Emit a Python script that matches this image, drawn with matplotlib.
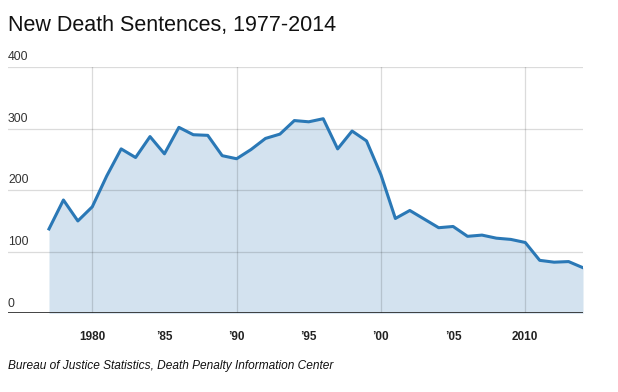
import matplotlib.pyplot as plt
import matplotlib.transforms as mtransforms

plt.rcParams['font.family'] = ['Liberation Sans', 'DejaVu Sans']

# new death sentences per year
years = list(range(1977, 2015))
sentences = [137, 184, 150, 173, 223, 267, 253, 287, 259, 302,
             290, 289, 256, 251, 266, 284, 291, 313, 311, 316,
             267, 296, 280, 225, 154, 167, 153, 139, 141, 125,
             127, 122, 120, 115, 86, 83, 84, 74]

xtick_pos = [1980, 1985, 1990, 1995, 2000, 2005, 2010]
xtick_labels = ['1980', '\u201985', '\u201990', '\u201995', '\u201900', '\u201905', '2010']
ytick_pos = [0, 100, 200, 300, 400]

fig = plt.figure(figsize=(6.18, 3.92), dpi=100)
ax = fig.add_axes([8 / 618, 1 - 313.3 / 392, 575 / 618, (313.3 - 67) / 392])

ax.fill_between(years, sentences, 0, color='#d3e2ef', lw=0, zorder=1)
ax.plot(years, sentences, color='#2a78b6', lw=2.2, zorder=3)

# grid on top of the fill
for y in ytick_pos[1:]:
    ax.axhline(y, color='#000000', alpha=0.14, lw=0.9, zorder=2)
for x in [1980, 1990, 2000, 2010]:
    ax.axvline(x, color='#000000', alpha=0.14, lw=0.9, zorder=2)
ax.axhline(0, color='#222222', lw=1.2, zorder=4)

ax.set_xlim(1974.16, 2014)
ax.set_ylim(0, 400)
for s in ax.spines.values():
    s.set_visible(False)

ax.set_yticks([])
ax.set_xticks(xtick_pos)
ax.set_xticklabels(xtick_labels, fontsize=8.5, fontweight='bold', color='#222222')
ax.tick_params(axis='x', length=0, pad=13)

trans = mtransforms.blended_transform_factory(ax.transAxes, ax.transData)
for y in ytick_pos:
    ax.text(0.0, y + 6, str(y), transform=trans, ha='left', va='bottom',
            fontsize=8.8, color='#333333')

fig.text(8 / 618, 1 - 31 / 392, 'New Death Sentences, 1977-2014',
         fontsize=15.5, color='#111111', ha='left', va='baseline')
fig.text(8 / 618, 1 - 369 / 392,
         'Bureau of Justice Statistics, Death Penalty Information Center',
         fontsize=8.6, style='italic', color='#111111', ha='left', va='baseline')

fig.savefig('out.png', dpi=100)
